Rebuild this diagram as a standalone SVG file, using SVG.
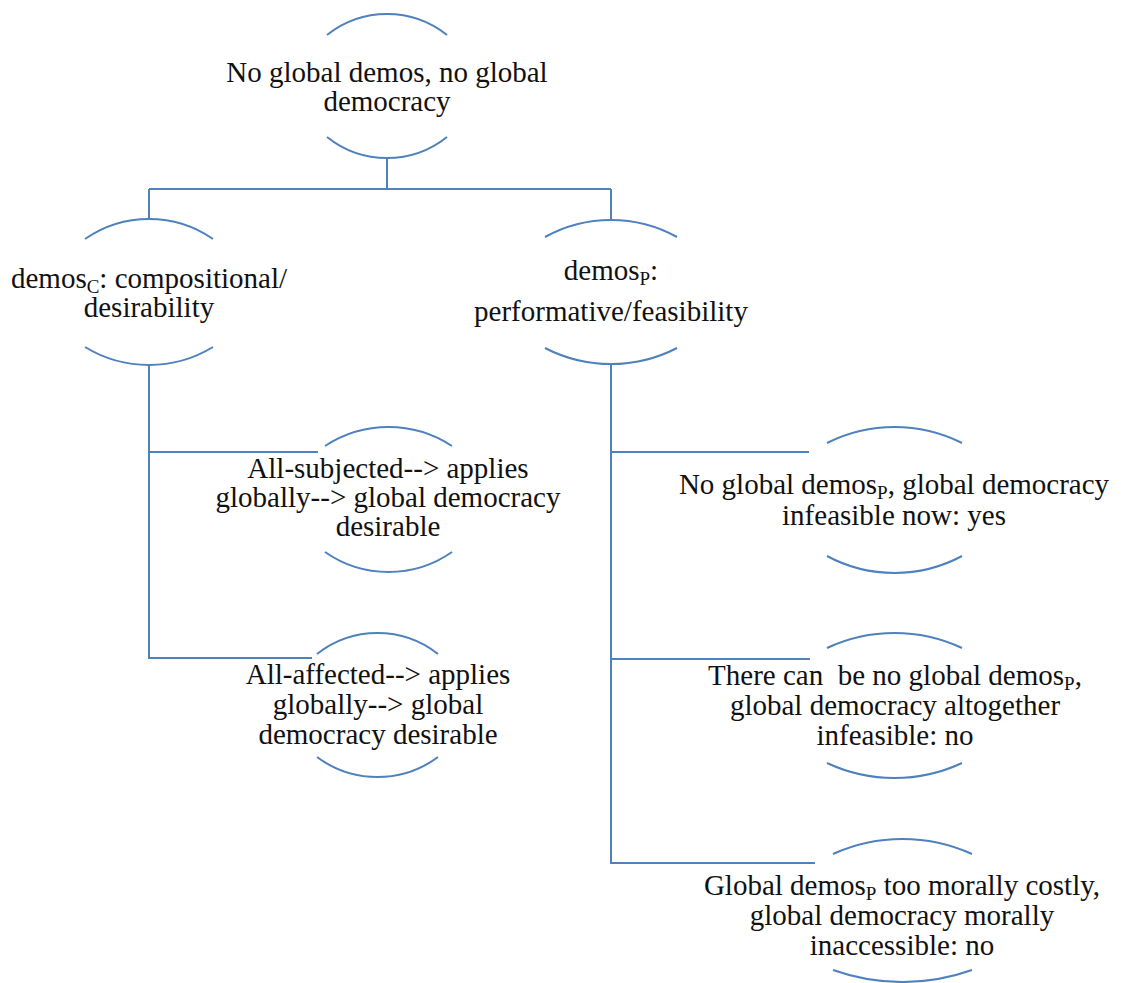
<svg xmlns="http://www.w3.org/2000/svg" width="1122" height="983" viewBox="0 0 1122 983">
<style>
.arc{fill:none;stroke:#4F81BD;stroke-width:2}
.con{fill:none;stroke:#4F81BD;stroke-width:2}
.t{font-family:'Liberation Serif','DejaVu Serif','Times New Roman',Times,serif;font-size:29px;fill:#111;text-anchor:middle}
.sub{font-size:19px}
</style>
<rect width="1122" height="983" fill="#fff"/>
<g id="connectors">
<path class="con" d="M387,158 V189 M149,189 H611 M149,189 V219 M611,189 V220"/>
<path class="con" d="M149,365 V658 H312 M149,452 H318"/>
<path class="con" d="M611,364 V863 H815 M611,452 H809 M611,659 H810"/>
</g>
<g id="n1">
<path class="arc" d="M327,35 A96.2,96.2 0 0 1 447,35 M327,137 A96.2,96.2 0 0 0 447,137"/>
<text class="t" x="387" y="82">No global demos, no global</text>
<text class="t" x="387" y="111">democracy</text>
</g>
<g id="n2">
<path class="arc" d="M85,239 A112.4,112.4 0 0 1 213,239 M85,347 A122.8,122.8 0 0 0 213,347"/>
<text class="t" x="149" y="288">demos<tspan class="sub" dy="5">C</tspan><tspan dy="-5">: compositional/</tspan></text>
<text class="t" x="149" y="317">desirability</text>
</g>
<g id="n3">
<path class="arc" d="M545,237 A136.6,136.6 0 0 1 677,237 M545,348 A144,144 0 0 0 677,348"/>
<text class="t" x="611" y="280">demos<tspan class="sub" dy="5">P</tspan><tspan dy="-5">:</tspan></text>
<text class="t" x="611" y="321">performative/feasibility</text>
</g>
<g id="n4">
<path class="arc" d="M325,446 A115.6,115.6 0 0 1 452,446 M325,552 A110.8,110.8 0 0 0 452,552"/>
<text class="t" x="388" y="478">All-subjected--&gt; applies</text>
<text class="t" x="388" y="507">globally--&gt; global democracy</text>
<text class="t" x="388" y="536">desirable</text>
</g>
<g id="n5">
<path class="arc" d="M827,443 A150.4,150.4 0 0 1 962,443 M827,556 A142.5,142.5 0 0 0 962,556"/>
<text class="t" x="894" y="494">No global demos<tspan class="sub" dy="5">P</tspan><tspan dy="-5">, global democracy</tspan></text>
<text class="t" x="894" y="525">infeasible now: yes</text>
</g>
<g id="n6">
<path class="arc" d="M317,654 A97.6,97.6 0 0 1 438,654 M317,757 A101.5,101.5 0 0 0 438,757"/>
<text class="t" x="378" y="684">All-affected--&gt; applies</text>
<text class="t" x="378" y="714">globally--&gt; global</text>
<text class="t" x="378" y="744">democracy desirable</text>
</g>
<g id="n7">
<path class="arc" d="M827,648 A159.4,159.4 0 0 1 962,648 M827,763 A159.4,159.4 0 0 0 962,763"/>
<text class="t" x="895" y="685" xml:space="preserve">There can  be no global demos<tspan class="sub" dy="5">P</tspan><tspan dy="-5">,</tspan></text>
<text class="t" x="895" y="715">global democracy altogether</text>
<text class="t" x="895" y="745">infeasible: no</text>
</g>
<g id="n8">
<path class="arc" d="M833,854 A168.5,168.5 0 0 1 972,854 M833,970 A207,207 0 0 0 972,970"/>
<text class="t" x="902" y="895">Global demos<tspan class="sub" dy="5">P</tspan><tspan dy="-5"> too morally costly,</tspan></text>
<text class="t" x="902" y="925">global democracy morally</text>
<text class="t" x="902" y="955">inaccessible: no</text>
</g>
</svg>
